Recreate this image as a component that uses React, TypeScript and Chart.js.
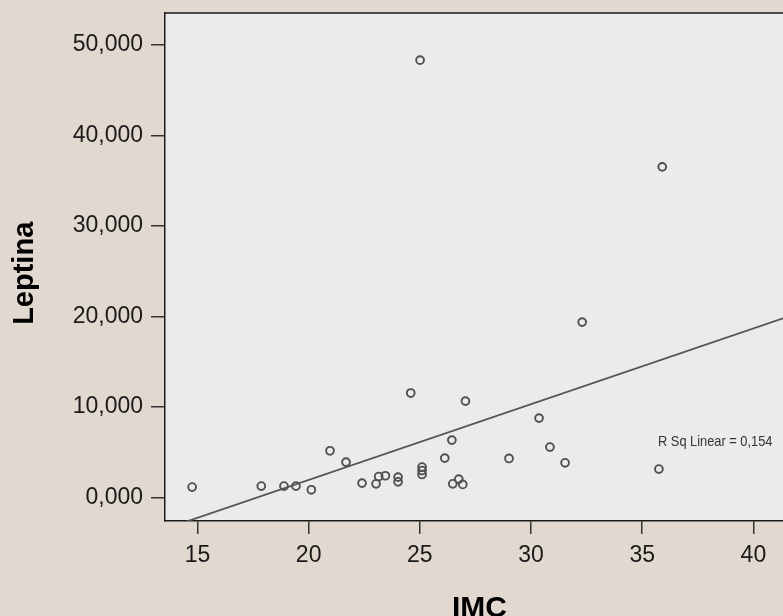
import React, { useEffect, useRef } from 'react';
import { Chart, registerables } from 'chart.js';

Chart.register(...registerables);

// IMC (x) and Leptina (y) values
const imc = [
  14.76, 17.87, 18.89, 19.43, 20.12, 20.96, 21.68, 22.4, 23.03, 23.15, 23.45,
  24.02, 24.02, 24.59, 25.01, 25.1, 25.1, 25.1, 26.12, 26.44, 26.48, 26.75,
  26.93, 27.05, 29.01, 30.36, 30.85, 31.53, 32.3, 35.75, 35.9,
];
const leptina = [
  1.15, 1.26, 1.26, 1.26, 0.85, 5.16, 3.91, 1.59, 1.51, 2.32, 2.4,
  2.25, 1.73, 11.54, 48.33, 3.36, 2.98, 2.54, 4.35, 6.34, 1.51, 2.03,
  1.44, 10.65, 4.31, 8.77, 5.57, 3.83, 19.38, 3.14, 36.54,
];

// Linear fit line endpoints
const fitX = [13.54, 41.96];
const fitY = [-3.47, 20.32];

const xTicks = [15, 20, 25, 30, 35, 40];
const yTicks = [0, 10, 20, 30, 40, 50];

const xRange = [13.54, 41.96];
const yRange = [-2.6, 53.54];

const rSqLabel = 'R Sq Linear = 0,154';
const rSqAt = [35.71, 6.16];

const xTitle = 'IMC';
const yTitle = 'Leptina';

const BEIGE = '#e1d8cf';
const PLOT_BG = '#ebebeb';
const INK = '#1a1a1a';
const FONT = '"Liberation Sans", Arial, sans-serif';

const framePlugin = {
  id: 'frame',
  beforeDraw(chart: any) {
    const { ctx, chartArea: a, width, height } = chart;
    ctx.save();
    ctx.fillStyle = BEIGE;
    ctx.fillRect(0, 0, width, height);
    ctx.fillStyle = PLOT_BG;
    ctx.fillRect(a.left, a.top, a.right - a.left, a.bottom - a.top);
    ctx.restore();
  },
  afterDraw(chart: any) {
    const { ctx, chartArea: a, scales } = chart;
    ctx.save();
    ctx.strokeStyle = INK;
    ctx.lineWidth = 1.5;
    ctx.beginPath();
    ctx.moveTo(a.left, a.top);
    ctx.lineTo(a.right, a.top);
    ctx.lineTo(a.right, a.bottom);
    ctx.stroke();
    ctx.restore();

    // R squared annotation
    ctx.save();
    const px = scales.x.getPixelForValue(rSqAt[0]);
    const py = scales.y.getPixelForValue(rSqAt[1]);
    ctx.translate(px, py);
    ctx.scale(0.855, 1);
    ctx.fillStyle = '#333';
    ctx.font = '15px ' + FONT;
    ctx.textAlign = 'left';
    ctx.textBaseline = 'middle';
    ctx.fillText(rSqLabel, 0, 0);
    ctx.restore();

    // Axis titles
    ctx.save();
    ctx.fillStyle = '#000';
    ctx.font = 'bold 30px ' + FONT;
    ctx.textAlign = 'center';
    ctx.textBaseline = 'alphabetic';
    ctx.fillText(xTitle, 479.5, 617);
    ctx.restore();

    ctx.save();
    ctx.fillStyle = '#000';
    ctx.font = 'bold 29px ' + FONT;
    ctx.textAlign = 'center';
    ctx.textBaseline = 'alphabetic';
    ctx.translate(33.3, 273.3);
    ctx.rotate(-Math.PI / 2);
    ctx.fillText(yTitle, 0, 0);
    ctx.restore();
  },
};

export default function App() {
  const ref = useRef<HTMLCanvasElement>(null);

  useEffect(() => {
    if (!ref.current) return;
    const chart = new Chart(ref.current, {
      type: 'scatter',
      data: {
        datasets: [
          {
            data: imc.map((x, i) => ({ x, y: leptina[i] })),
            pointStyle: 'circle',
            pointRadius: 3.9,
            pointBorderWidth: 1.9,
            pointBorderColor: '#505050',
            pointBackgroundColor: 'rgba(0,0,0,0)',
            showLine: false,
          },
          {
            data: fitX.map((x, i) => ({ x, y: fitY[i] })),
            showLine: true,
            borderColor: '#555',
            borderWidth: 1.8,
            pointRadius: 0,
          },
        ],
      },
      options: {
        animation: false,
        responsive: false,
        devicePixelRatio: 1,
        layout: { autoPadding: false, padding: { top: 13, left: 0, right: 0, bottom: 0 } },
        plugins: { legend: { display: false }, tooltip: { enabled: false } },
        scales: {
          x: {
            type: 'linear',
            min: xRange[0],
            max: xRange[1],
            afterBuildTicks: (s: any) => {
              s.ticks = xTicks.map((v) => ({ value: v }));
            },
            afterFit: (s: any) => {
              s.height = 95;
              s.paddingLeft = 0;
              s.paddingRight = 0;
            },
            ticks: {
              color: INK,
              font: { family: FONT, size: 23 },
              padding: 8,
              maxRotation: 0,
              callback: (v: any) => String(v),
            },
            grid: {
              drawOnChartArea: false,
              drawTicks: true,
              tickLength: 13,
              color: '#333',
              lineWidth: 1.5,
            },
            border: { display: true, color: INK, width: 1.5 },
            title: { display: false },
          },
          y: {
            type: 'linear',
            min: yRange[0],
            max: yRange[1],
            afterBuildTicks: (s: any) => {
              s.ticks = yTicks.map((v) => ({ value: v }));
            },
            afterFit: (s: any) => {
              s.width = 165;
              s.paddingTop = 0;
              s.paddingBottom = 0;
            },
            ticks: {
              color: INK,
              font: { family: FONT, size: 23 },
              padding: 8,
              callback: (v: any) => Number(v).toFixed(3).replace('.', ','),
            },
            grid: {
              drawOnChartArea: false,
              drawTicks: true,
              tickLength: 14,
              color: '#333',
              lineWidth: 1.5,
            },
            border: { display: true, color: INK, width: 1.5 },
            title: { display: false },
          },
        },
      },
      plugins: [framePlugin],
    });
    return () => chart.destroy();
  }, []);

  return (
    <div
      style={{
        position: 'fixed',
        left: 0,
        top: 0,
        width: 783,
        height: 616,
        overflow: 'hidden',
        background: BEIGE,
      }}
    >
      <canvas ref={ref} width={797} height={616} style={{ display: 'block', width: 797, height: 616 }} />
    </div>
  );
}
